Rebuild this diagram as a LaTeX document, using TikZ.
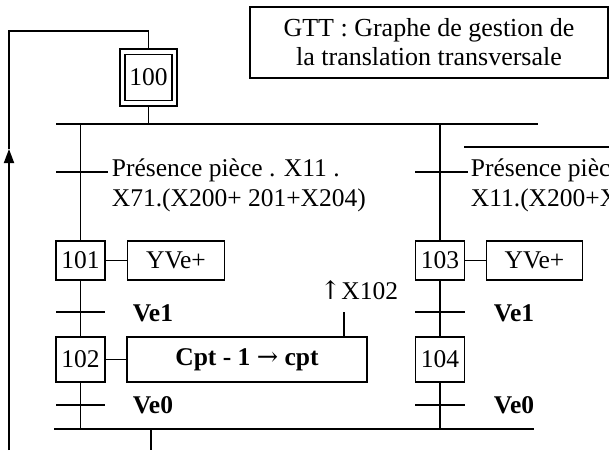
\documentclass[tikz,border=0pt]{standalone}
\usepackage{fontspec}
\setmainfont{Liberation Serif}
\newfontfamily\arrowfont{DejaVu Serif}
\usetikzlibrary{arrows.meta,calc}
\begin{document}
\begin{tikzpicture}[x=1pt,y=-1pt,line width=1.8pt,
  lbl/.style={inner sep=0pt,font=\fontsize{25.5}{30}\selectfont},
  boldlbl/.style={inner sep=0pt,font=\fontsize{25.5}{30}\selectfont\bfseries},
  stepbox/.style={draw,inner sep=0pt,minimum width=49pt,font=\fontsize{25.5}{30}\selectfont},
  actbox/.style={draw,inner sep=0pt,font=\fontsize{25.5}{30}\selectfont}]
\useasboundingbox (0,0) rectangle (609,450);
\clip (0,0) rectangle (609,450);

% title
\node[draw, minimum width=358pt, minimum height=71pt, align=center, inner sep=0pt,
      font=\fontsize{26}{29}\selectfont] (title) at (429,42.5)
      {GTT : Graphe de gestion de\\la translation transversale};

% initial step
\node[draw, minimum width=57pt, minimum height=57pt] (s100o) at (148.5,77.5) {};
\node[stepbox, minimum width=47pt, minimum height=46pt] (s100) at (148.5,77.5) {100};

% divergence
\coordinate (divL) at (56,124);
\coordinate (divR) at (538,124);
\draw (divL) -- (divR);
\draw (s100o.south) -- (s100o.south |- divL);

% steps
\node[stepbox, minimum height=39pt] (s101) at (80.5,260.5) {101};
\node[stepbox, minimum height=45pt] (s102) at (80.5,359.5) {102};
\node[stepbox, minimum height=39pt] (s103) at (440,260.5) {103};
\node[stepbox, minimum height=45pt] (s104) at (440,359.5) {104};

% actions
\node[actbox, minimum width=97pt, minimum height=39pt] (a101) at (176,260.5) {YVe+};
\node[actbox, minimum width=240pt, minimum height=45pt,
      font=\fontsize{25.5}{30}\selectfont\bfseries] (a102) at (247,359.5)
      {Cpt - 1 {\arrowfont\mdseries →} cpt};
\node[actbox, minimum width=96pt, minimum height=39pt] (a103) at (534.5,260.5) {YVe+};
\draw (s101.east) -- (a101.west);
\draw (s102.east) -- (a102.west);
\draw (s103.east) -- (a103.west);

% convergence
\coordinate (convL) at (54,429);
\coordinate (convR) at (534,429);
\coordinate (convO) at (151,429);
\coordinate (outB) at (151,450);
\draw (convL) -- (convR);
\draw (convO) -- (outB);

% branches
\draw (s101.north |- divL) -- (s101.north);
\draw (s101.south) -- (s102.north);
\draw (s102.south) -- (s102.south |- convL);
\draw (s103.north |- divL) -- (s103.north);
\draw (s103.south) -- (s104.north);
\draw (s104.south) -- (s104.south |- convL);

% transitions (ticks)
\coordinate (t1a) at (56,172);  \coordinate (t1b) at (108,172);
\coordinate (t2a) at (56,312);  \coordinate (t2b) at (105,312);
\coordinate (t3a) at (56,405);  \coordinate (t3b) at (105,405);
\coordinate (t4a) at (415,172); \coordinate (t4b) at (468,172);
\coordinate (t5a) at (415,312); \coordinate (t5b) at (465,312);
\coordinate (t6a) at (415,405); \coordinate (t6b) at (465,405);
\draw (t1a) -- (t1b);
\draw (t2a) -- (t2b);
\draw (t3a) -- (t3b);
\draw (t4a) -- (t4b);
\draw (t5a) -- (t5b);
\draw (t6a) -- (t6b);

% receptivities
\node[lbl, anchor=base west] (c1a) at (111,176) {Présence pièce . X11 .};
\node[lbl, anchor=base west] (c1b) at (111,206) {X71.(X200+ 201+X204)};
\node[lbl, anchor=base west] (c4a) at (470,176) {Présence pièce .};
\node[lbl, anchor=base west] (c4b) at (470,206) {X11.(X200+X201+X204)};
\node[boldlbl, anchor=west] (c2) at (132,313) {Ve1};
\node[boldlbl, anchor=west] (c3) at (132,405) {Ve0};
\node[boldlbl, anchor=west] (c5) at (493,313) {Ve1};
\node[boldlbl, anchor=west] (c6) at (493,405) {Ve0};

% X102 event
\node[lbl] (x102) at (359,290) {{\arrowfont ↑}X102};
\coordinate (xl) at (344,312);
\draw (xl) -- (xl |- a102.north);

% extra line on the right
\coordinate (rl1) at (464,147);
\coordinate (rl2) at (609,147);
\draw (rl1) -- (rl2);

% loop back to initial step
\coordinate (lb) at (9,450);
\coordinate (ltip) at (9,149);
\coordinate (ltop) at (9,31);
\coordinate (ltr) at (148.5,31);
\draw[-{Triangle[length=14pt,width=10pt]}] (lb) -- (ltip);
\draw (ltip) -- (ltop) -- (ltr) -- (s100o.north);
\end{tikzpicture}
\end{document}
